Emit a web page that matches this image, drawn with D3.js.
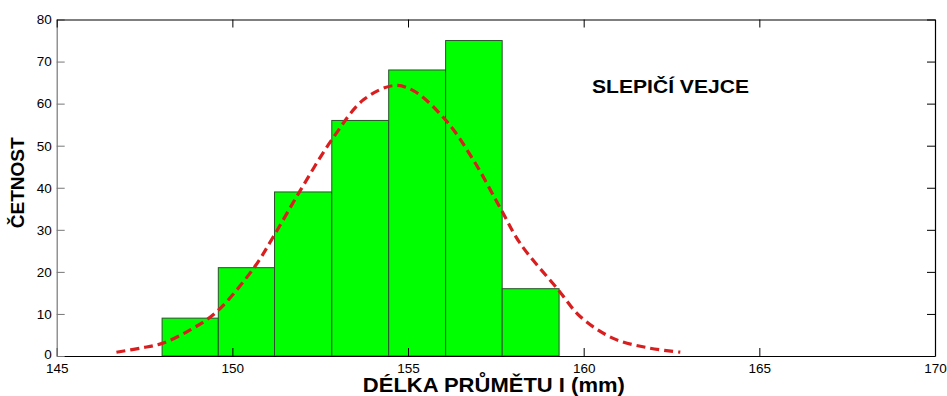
<!DOCTYPE html>
<html>
<head>
<meta charset="utf-8">
<script src="https://cdn.jsdelivr.net/npm/d3@7"></script>
<style>
  html, body { margin: 0; padding: 0; background: #fff; }
  svg { display: block; }
  text { font-family: "Liberation Sans", Arial, sans-serif; }
</style>
</head>
<body>
<script>
// Histogram of hen egg projection lengths with a fitted normal curve
const binEdges = [148.0, 149.6, 151.2, 152.83, 154.45, 156.07, 157.68, 159.3];
const counts = [9, 21, 39, 56, 68, 75, 16];

// Fitted curve, sampled points (length mm, frequency)
const fitX = [146.7, 147.4, 148.0, 148.8, 149.55, 150.6, 151.17, 151.93, 152.83, 153.73, 154.6, 155.15, 156.07, 156.86, 157.67, 158.19, 159.28, 159.9, 160.84, 161.8, 162.75];
const fitY = [0.9, 1.9, 3.0, 6.2, 10.5, 20.8, 28.4, 39.3, 51.4, 60.9, 64.3, 63.1, 56.1, 46.6, 34.5, 26.8, 15.7, 9.4, 4.2, 2.0, 0.9];

const xTicks = [145, 150, 155, 160, 165, 170];
const yTicks = [0, 10, 20, 30, 40, 50, 60, 70, 80];

const W = 947, H = 396;
const plotL = 56.7, plotR = 935, plotT = 19.5, plotB = 356;

const svg = d3.select("body").append("svg").attr("width", W).attr("height", H);

const x = d3.scaleLinear().domain([145, 170]).range([plotL, plotR]);
const y = d3.scaleLinear().domain([0, 80]).range([plotB, plotT]);

// bars
const bins = counts.map((c, i) => ({ x0: binEdges[i], x1: binEdges[i + 1], n: c }));
svg.append("g").selectAll("rect").data(bins).join("rect")
  .attr("x", d => x(d.x0))
  .attr("y", d => y(d.n))
  .attr("width", d => x(d.x1) - x(d.x0))
  .attr("height", d => y(0) - y(d.n))
  .attr("fill", "#00ff00")
  .attr("stroke", "#2f4f2f")
  .attr("stroke-width", 1);

// fitted curve
const line = d3.line()
  .x((d, i) => x(fitX[i]))
  .y(d => y(d))
  .curve(d3.curveCatmullRom.alpha(0.5));
svg.append("path")
  .attr("d", line(fitY))
  .attr("fill", "none")
  .attr("stroke", "#d81e1e")
  .attr("stroke-width", 3.2)
  .attr("stroke-dasharray", "9,5");

// axes
const fontSize = "13.5px";
const gB = svg.append("g").attr("transform", `translate(0,${plotB})`)
  .call(d3.axisBottom(x).tickValues(xTicks).tickSize(-8).tickSizeOuter(0).tickPadding(7));
const gL = svg.append("g").attr("transform", `translate(${plotL},0)`)
  .call(d3.axisLeft(y).tickValues(yTicks).tickSize(-8).tickSizeOuter(0).tickPadding(5));
const gT = svg.append("g").attr("transform", `translate(0,${plotT})`)
  .call(d3.axisTop(x).tickValues(xTicks).tickSize(-8).tickSizeOuter(0).tickFormat(""));
const gR = svg.append("g").attr("transform", `translate(${plotR},0)`)
  .call(d3.axisRight(y).tickValues(yTicks).tickSize(-8).tickSizeOuter(0).tickFormat(""));

[gB, gL, gT, gR].forEach(g => {
  g.selectAll("text").attr("fill", "#000").style("font-size", fontSize)
    .style("font-family", "'Liberation Sans', Arial, sans-serif");
  g.select(".domain").attr("stroke", "#000").attr("stroke-width", 1.2);
  g.selectAll(".tick line").attr("stroke", "#000");
});
gL.select(".domain").attr("stroke", "#777");
gL.selectAll(".tick line").attr("stroke", "#777");
// lift the zero label a little so it clears the first x label
gL.selectAll(".tick").filter(d => d === 0).select("text").attr("dy", "0.2em");

// titles
svg.append("text")
  .attr("x", (plotL + plotR) / 2 - 2)
  .attr("y", 392)
  .attr("text-anchor", "middle")
  .attr("font-weight", "bold")
  .attr("font-size", 19.5)
  .attr("textLength", 262)
  .attr("lengthAdjust", "spacingAndGlyphs")
  .text("DÉLKA PRŮMĚTU I (mm)");

svg.append("text")
  .attr("transform", `translate(23.5,${(plotT + plotB) / 2 - 5}) rotate(-90)`)
  .attr("text-anchor", "middle")
  .attr("font-weight", "bold")
  .attr("font-size", 19)
  .text("ČETNOST");

svg.append("text")
  .attr("x", 592)
  .attr("y", 93)
  .attr("font-weight", "bold")
  .attr("font-size", 18)
  .attr("textLength", 157)
  .attr("lengthAdjust", "spacingAndGlyphs")
  .text("SLEPIČÍ VEJCE");
</script>
</body>
</html>
